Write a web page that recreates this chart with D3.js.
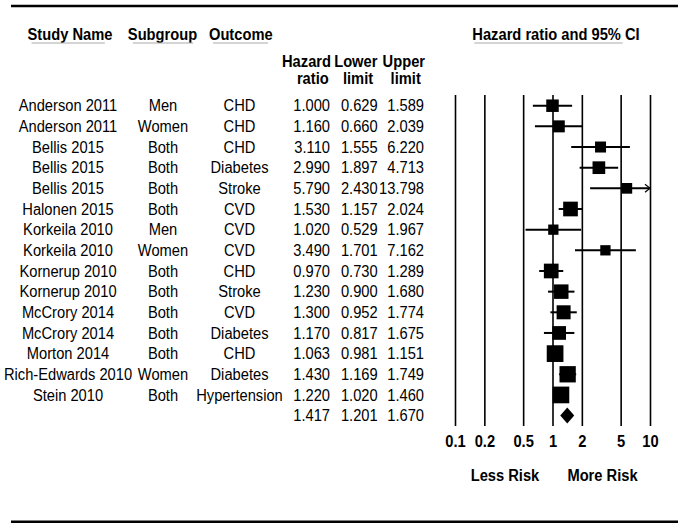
<!DOCTYPE html>
<html>
<head>
<meta charset="utf-8">
<script src="https://cdn.jsdelivr.net/npm/d3@7"></script>
<style>
html,body{margin:0;padding:0;background:#fff;}
svg{display:block;font-family:"Liberation Sans",Arial,Helvetica,sans-serif;}
</style>
</head>
<body>
<svg id="chart" width="683" height="529"></svg>
<script>
// ---- data ----
const studies = ["Anderson 2011","Anderson 2011","Bellis 2015","Bellis 2015","Bellis 2015","Halonen 2015","Korkeila 2010","Korkeila 2010","Kornerup 2010","Kornerup 2010","McCrory 2014","McCrory 2014","Morton 2014","Rich-Edwards 2010","Stein 2010"];
const subgroups = ["Men","Women","Both","Both","Both","Both","Men","Women","Both","Both","Both","Both","Both","Women","Both"];
const outcomes = ["CHD","CHD","CHD","Diabetes","Stroke","CVD","CVD","CVD","CHD","Stroke","CVD","Diabetes","CHD","Diabetes","Hypertension"];
const hazardRatio = [1.000,1.160,3.110,2.990,5.790,1.530,1.020,3.490,0.970,1.230,1.300,1.170,1.063,1.430,1.220];
const lowerLimit = [0.629,0.660,1.555,1.897,2.430,1.157,0.529,1.701,0.730,0.900,0.952,0.817,0.981,1.169,1.020];
const upperLimit = [1.589,2.039,6.220,4.713,13.798,2.024,1.967,7.162,1.289,1.680,1.774,1.675,1.151,1.749,1.460];
const relWeight = [5.66,5.22,4.39,5.84,4.13,7.83,3.84,3.84,7.83,7.61,7.11,6.82,10.12,9.64,10.12];
const summary = {hr:1.417, lower:1.201, upper:1.670};
const tickValues = [0.1,0.2,0.5,1,2,5,10];
const tickLabels = ["0.1","0.2","0.5","1","2","5","10"];

// ---- layout ----
const svg = d3.select("#chart");
const FS = 14.7;
const SY = 1.1; // vertical stretch of glyphs
const x = d3.scaleLog().domain([0.1,10]).range([455,650]);
const rowY = i => 105.7 + i*20.66;
const size = d3.scaleSqrt().domain([0,10.12]).range([0,16.7]);
const gridTop = 95, gridBottom = 426;

function addText(parent, tx, ty, str, anchor, bold){
  return parent.append("text")
    .attr("transform",`translate(${tx},${ty}) scale(1,${SY})`)
    .attr("text-anchor",anchor||"middle")
    .attr("font-size",FS).attr("font-weight",bold?"bold":"normal")
    .attr("fill","#000").text(str);
}

// rules top/bottom
svg.append("line").attr("x1",11).attr("x2",678).attr("y1",6).attr("y2",6)
  .attr("stroke","#000").attr("stroke-width",2.6);
svg.append("line").attr("x1",11).attr("x2",678).attr("y1",521.7).attr("y2",521.7)
  .attr("stroke","#000").attr("stroke-width",2.6);

// headers
const headers = [
  {t:"Study Name", cx:70, ins:[4,8]},
  {t:"Subgroup", cx:162.5, ins:[5,4]},
  {t:"Outcome", cx:240.8, ins:[4,5]},
  {t:"Hazard ratio and 95% CI", cx:556, ins:[2,17]}
];
headers.forEach(h=>{
  const t = addText(svg, h.cx, 40, h.t, "middle", true);
  const bb = t.node().getBBox();
  svg.append("line").attr("x1",h.cx+bb.x+h.ins[0]).attr("x2",h.cx+bb.x+bb.width-h.ins[1])
    .attr("y1",43).attr("y2",43).attr("stroke","#aaa").attr("stroke-width",1);
});
const subHeaders = [
  {t:"Hazard",cx:306.5,y:67},{t:"ratio",cx:312.8,y:84},
  {t:"Lower",cx:355.8,y:67},{t:"limit",cx:358,y:84},
  {t:"Upper",cx:403.8,y:67},{t:"limit",cx:405.7,y:84}
];
subHeaders.forEach(d=>addText(svg, d.cx, d.y, d.t, "middle", true));

// table text
const rows = studies.map((s,i)=>({s, g:subgroups[i], o:outcomes[i], hr:hazardRatio[i], lo:lowerLimit[i], up:upperLimit[i], w:relWeight[i], i}));
const tab = svg.append("g");
rows.forEach(r=>{
  const y = rowY(r.i)+5.6;
  addText(tab, 68, y, r.s, "middle");
  addText(tab, 163, y, r.g, "middle");
  addText(tab, 239.5, y, r.o, "middle");
  addText(tab, 330, y, r.hr.toFixed(3), "end");
  addText(tab, 377.7, y, r.lo.toFixed(3), "end");
  addText(tab, 424, y, r.up.toFixed(3), "end");
});
{
  const y = rowY(rows.length)+5.6;
  addText(tab, 330, y, summary.hr.toFixed(3), "end");
  addText(tab, 377.7, y, summary.lower.toFixed(3), "end");
  addText(tab, 424, y, summary.upper.toFixed(3), "end");
}

// axis with gridlines
const axis = d3.axisBottom(x).tickValues(tickValues)
  .tickFormat((d,i)=>tickLabels[i]).tickSize(-(gridBottom-gridTop)).tickPadding(8.7);
const ag = svg.append("g").attr("transform",`translate(0,${gridBottom})`).call(axis);
ag.select(".domain").remove();
ag.selectAll(".tick line").attr("stroke","#000").attr("stroke-width",1.6);
ag.selectAll(".tick text").attr("font-size",FS).attr("font-weight","bold")
  .attr("fill","#000").attr("font-family","'Liberation Sans',Arial,sans-serif")
  .attr("transform",`scale(1,${SY})`);

// CI lines and markers
const dom = x.domain();
const plot = svg.append("g");
rows.forEach(r=>{
  const y = rowY(r.i);
  const lo = Math.max(r.lo, dom[0]), up = Math.min(r.up, dom[1]);
  plot.append("line").attr("x1",x(lo)).attr("x2",x(up)).attr("y1",y).attr("y2",y)
    .attr("stroke","#000").attr("stroke-width",2);
  if (r.up > dom[1]) {
    const xe = x(dom[1]);
    plot.append("path").attr("d",`M${xe-5},${y-4}L${xe},${y}L${xe-5},${y+4}`)
      .attr("fill","none").attr("stroke","#000").attr("stroke-width",1.2);
  }
  const s = size(r.w);
  plot.append("rect").attr("x",x(r.hr)-s/2).attr("y",y-s/2).attr("width",s).attr("height",s)
    .attr("fill","#000");
});
{
  const y = rowY(rows.length);
  const xl = x(summary.lower), xu = x(summary.upper), xm = x(summary.hr);
  plot.append("path").attr("d",`M${xl},${y}L${xm},${y-8}L${xu},${y}L${xm},${y+8}Z`).attr("fill","#000");
}

// bottom labels
addText(svg, 505, 481, "Less Risk", "middle", true);
addText(svg, 602.5, 481, "More Risk", "middle", true);
</script>
</body>
</html>
